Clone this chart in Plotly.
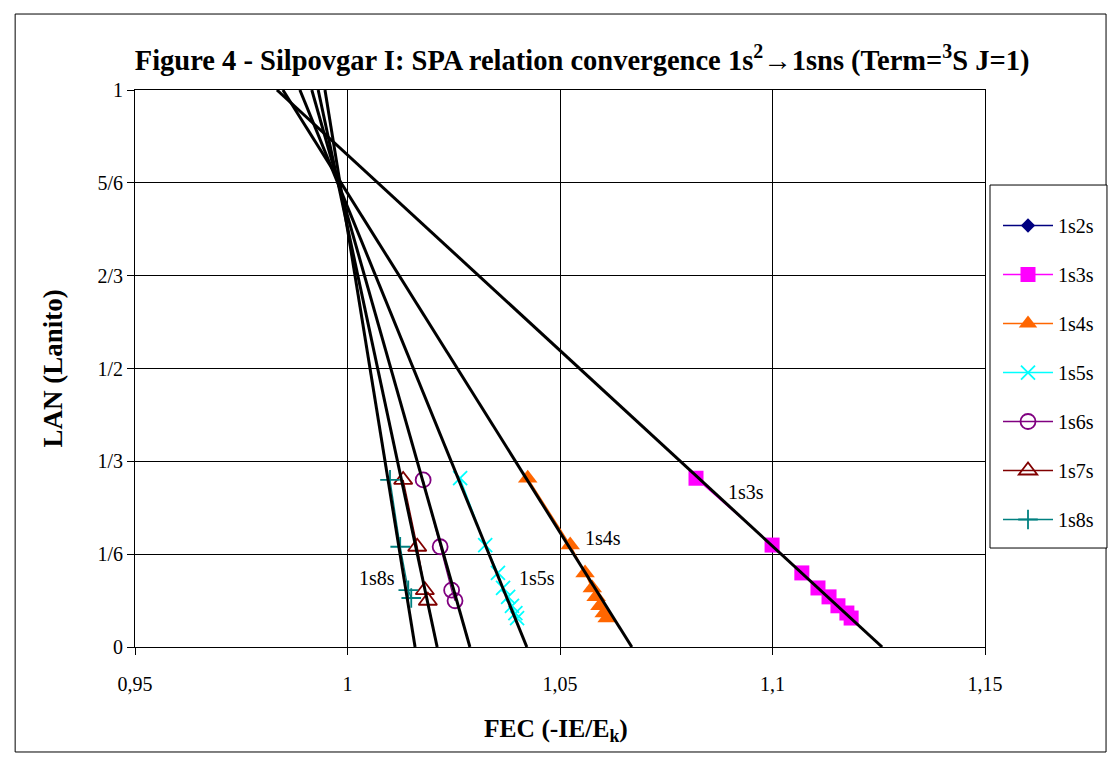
import plotly.graph_objects as go

# ---- data ----
series_names = ["1s2s", "1s3s", "1s4s", "1s5s", "1s6s", "1s7s", "1s8s"]

fec_1s2s = [None]
lan_1s2s = [None]
fec_1s3s = [1.0820, 1.0999, 1.1069, 1.1107, 1.1133, 1.1154, 1.1175, 1.1185]
lan_1s3s = [0.303, 0.183, 0.133, 0.106, 0.090, 0.074, 0.061, 0.052]
fec_1s4s = [1.0424, 1.0524, 1.0559, 1.0576, 1.0585, 1.0594, 1.0604, 1.0611]
lan_1s4s = [0.303, 0.183, 0.133, 0.106, 0.090, 0.074, 0.061, 0.052]
fec_1s5s = [1.0265, 1.0324, 1.0354, 1.0366, 1.0378, 1.0387, 1.0395, 1.0399]
lan_1s5s = [0.303, 0.183, 0.133, 0.106, 0.090, 0.074, 0.061, 0.052]
fec_1s6s = [1.0178, 1.0218, 1.0245, 1.0253]
lan_1s6s = [0.300, 0.180, 0.102, 0.083]
fec_1s7s = [1.0131, 1.0164, 1.0182, 1.0189]
lan_1s7s = [0.300, 0.180, 0.102, 0.083]
fec_1s8s = [1.0100, 1.0124, 1.0143, 1.0150]
lan_1s8s = [0.300, 0.180, 0.102, 0.088]

# trendlines: FEC at LAN=0 and LAN=1
trend_names = ["1s3s", "1s4s", "1s5s", "1s6s", "1s7s", "1s8s"]
trend_fec_at0 = [1.1258, 1.0669, 1.0422, 1.0288, 1.0211, 1.0159]
trend_fec_at1 = [0.9834, 0.9848, 0.9888, 0.9916, 0.9931, 0.9947]
trend_lan = [0, 1]

x_tickvals = [0.95, 1.0, 1.05, 1.1, 1.15]
x_ticktext = ["0,95", "1", "1,05", "1,1", "1,15"]
y_tickvals = [0, 1/6, 1/3, 1/2, 2/3, 5/6, 1]
y_ticktext = ["0", "1/6", "1/3", "1/2", "2/3", "5/6", "1"]

# label annotations (text, x, y)
label_text = ["1s3s", "1s4s", "1s5s", "1s8s", "1s7s", "1s6s"]
label_x = [1.0938, 1.0601, 1.0446, 1.0069, 1.0208, 1.0324]
label_y = [0.278, 0.196, 0.124, 0.124, -0.052, -0.052]

FONT = "Liberation Serif, Times New Roman, serif"

styles = {
    "1s2s": dict(color="#000080", symbol="diamond", size=11, open=False),
    "1s3s": dict(color="#FF00FF", symbol="square", size=15, open=False),
    "1s4s": dict(color="#FF6600", symbol="triangle-up", size=17, open=False),
    "1s5s": dict(color="#00FFFF", symbol="x-thin-open", size=14, open=True),
    "1s6s": dict(color="#800080", symbol="circle-open", size=15, open=True),
    "1s7s": dict(color="#800000", symbol="triangle-up-open", size=16, open=True),
    "1s8s": dict(color="#008080", symbol="cross-thin-open", size=14, open=True),
}

data = {
    "1s2s": (fec_1s2s, lan_1s2s),
    "1s3s": (fec_1s3s, lan_1s3s),
    "1s4s": (fec_1s4s, lan_1s4s),
    "1s5s": (fec_1s5s, lan_1s5s),
    "1s6s": (fec_1s6s, lan_1s6s),
    "1s7s": (fec_1s7s, lan_1s7s),
    "1s8s": (fec_1s8s, lan_1s8s),
}

fig = go.Figure()

for name in series_names:
    xs, ys = data[name]
    st = styles[name]
    marker = dict(symbol=st["symbol"], size=st["size"], color=st["color"])
    if st["open"]:
        marker["line"] = dict(color=st["color"], width=1.8)
    else:
        marker["line"] = dict(color=st["color"], width=0)
    fig.add_trace(go.Scatter(
        x=xs, y=ys, name=name, mode="lines+markers",
        line=dict(color=st["color"], width=1.3),
        marker=marker, legendgroup=name,
    ))

for i, name in enumerate(trend_names):
    fig.add_trace(go.Scatter(
        x=[trend_fec_at0[i], trend_fec_at1[i]], y=trend_lan,
        mode="lines", line=dict(color="black", width=3),
        showlegend=False, hoverinfo="skip",
    ))

for t, x, y in zip(label_text, label_x, label_y):
    fig.add_annotation(x=x, y=y, xref="x", yref="y", text=t, showarrow=False,
                       font=dict(family=FONT, size=20, color="black"))

# axis titles
fig.add_annotation(x=0.495, y=-0.149, xref="paper", yref="paper",
                   text="<b>FEC (-IE/E<sub>k</sub>)</b>", showarrow=False,
                   font=dict(family=FONT, size=25.5, color="black"), yanchor="middle")
fig.add_annotation(x=-0.0965, y=0.5, xref="paper", yref="paper",
                   text="<b>LAN (Lanito)</b>", showarrow=False, textangle=-90,
                   font=dict(family=FONT, size=27, color="black"), xanchor="center")

# outer border
fig.add_shape(type="rect", xref="paper", yref="paper",
              x0=-0.141, x1=1.1424, y0=-0.1885, y1=1.1364,
              line=dict(color="black", width=1), fillcolor="rgba(0,0,0,0)", layer="below")
# legend frame
fig.add_shape(type="rect", xref="paper", yref="paper",
              x0=1.0059, x1=1.1435, y0=0.1777, y1=0.8294,
              line=dict(color="black", width=1), fillcolor="white", layer="below")

fig.update_layout(
    width=1115, height=765,
    margin=dict(l=135, r=130, t=90, b=118),
    paper_bgcolor="white", plot_bgcolor="white",
    font=dict(family=FONT, size=20, color="black"),
    title=dict(
        text="<b>Figure 4 - Silpovgar I: SPA relation convergence 1s<sup>2</sup>→1sns (Term=<sup>3</sup>S J=1)</b>",
        x=0.526, xref="paper", y=1 - 60 / 765, yref="container", yanchor="middle", xanchor="center",
        font=dict(family=FONT, size=28.5, color="black"),
    ),
    legend=dict(
        x=1.0153, y=0.7917, xanchor="left", yanchor="top",
        borderwidth=0, bgcolor="rgba(0,0,0,0)",
        font=dict(family=FONT, size=20, color="black"),
        tracegroupgap=20, itemwidth=50,
    ),
    xaxis=dict(
        range=[0.95, 1.15], tickvals=x_tickvals, ticktext=x_ticktext,
        showgrid=True, gridcolor="black", gridwidth=1,
        showline=True, linecolor="black", linewidth=1, mirror=True,
        ticks="outside", ticklen=7, tickcolor="black", ticklabelstandoff=12,
        zeroline=False, tickfont=dict(family=FONT, size=20, color="black"),
    ),
    yaxis=dict(
        range=[0, 1], tickvals=y_tickvals, ticktext=y_ticktext,
        showgrid=True, gridcolor="black", gridwidth=1,
        showline=True, linecolor="black", linewidth=1, mirror=True,
        ticks="outside", ticklen=7, tickcolor="black",
        zeroline=False, tickfont=dict(family=FONT, size=20, color="black"),
    ),
    showlegend=True,
)

fig.write_html("out.html")
